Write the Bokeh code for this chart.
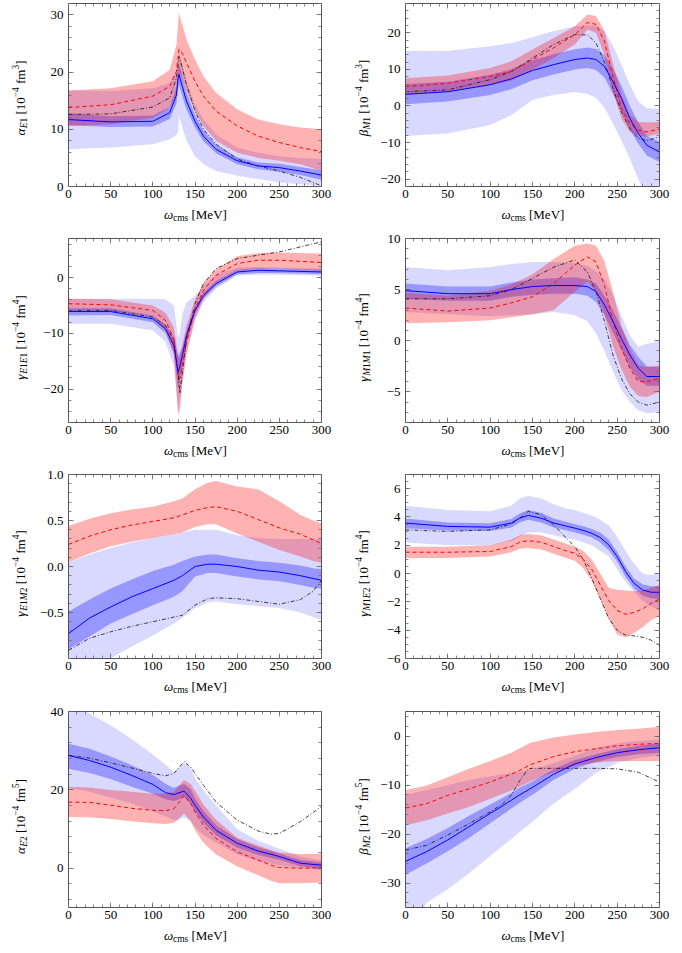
import math
from bokeh.plotting import figure
from bokeh.layouts import column, row
from bokeh.models import Range1d, FixedTicker, LinearAxis, CustomJSTickFormatter
from bokeh.core.properties import value
from bokeh.embed import file_html
from bokeh.resources import INLINE

FONT = "Liberation Serif"

# ---------------- data ----------------
XT = [0, 50, 100, 150, 200, 250, 300]
XM = list(range(0, 301, 10))

# Panel 1: alpha_E1
P1_X = [0, 50, 100, 120, 128, 130, 131, 135, 140, 150, 160, 175, 200, 225, 250, 275, 300]
P1_BLUE = [11.7, 11.3, 11.4, 12.9, 16.0, 19.0, 19.6, 17.5, 14.9, 11.4, 8.8, 6.5, 4.5, 3.6, 3.3, 2.7, 2.0]
P1_DARK_LO = [10.7, 10.4, 10.5, 11.8, 14.5, 17.0, 17.8, 15.8, 13.4, 10.3, 7.9, 5.8, 3.9, 3.0, 2.6, 2.0, 1.2]
P1_DARK_HI = [12.8, 12.3, 12.4, 13.9, 17.4, 20.8, 21.4, 19.3, 16.4, 12.5, 9.8, 7.3, 5.1, 4.2, 4.0, 3.4, 2.8]
P1_LIGHT_LO = [6.5, 6.8, 7.4, 8.2, 9.0, 9.5, 12.3, 10.3, 8.0, 5.3, 3.9, 2.7, 1.9, 1.3, 0.7, 0.4, 0.1]
P1_LIGHT_HI = [16.8, 16.7, 17.2, 18.1, 20.5, 22.5, 23.6, 21.3, 18.4, 14.3, 11.7, 9.1, 6.8, 5.9, 5.3, 5.0, 4.8]
P1_RED = [13.8, 14.3, 15.8, 17.5, 20.1, 22.5, 24.0, 23.3, 21.6, 18.4, 15.8, 13.2, 10.6, 8.8, 7.7, 6.8, 6.1]
P1_RED_LO = [10.6, 10.9, 12.0, 13.8, 16.0, 18.5, 19.8, 19.0, 16.7, 13.2, 10.6, 8.0, 5.9, 5.0, 4.5, 3.9, 2.7]
P1_RED_HI = [16.8, 17.2, 18.4, 20.4, 24.8, 28.5, 30.3, 28.3, 25.7, 22.2, 19.3, 16.4, 13.5, 11.7, 10.9, 10.3, 10.0]
P1_BLACK = [12.6, 12.7, 13.9, 15.5, 19.0, 21.5, 22.7, 20.7, 17.8, 13.2, 10.0, 7.4, 4.8, 3.6, 2.7, 1.6, 0.1]
P1_YT = [0, 10, 20, 30]

# Panel 2: beta_M1
P2_X = [0, 50, 100, 125, 150, 175, 200, 215, 225, 235, 245, 255, 265, 275, 285, 300]
P2_BLUE = [3.2, 3.9, 5.8, 7.4, 9.7, 11.3, 12.7, 13.1, 12.7, 10.8, 6.7, 2.1, -3.4, -7.5, -10.7, -12.6]
P2_DARK_LO = [0.5, 1.2, 3.0, 4.6, 7.0, 8.6, 10.0, 10.4, 9.8, 7.8, 3.3, -1.5, -6.5, -10.3, -13.5, -15.3]
P2_DARK_HI = [6.0, 6.6, 8.5, 10.1, 12.5, 14.1, 15.5, 16.0, 15.6, 13.9, 10.2, 5.6, 0.0, -4.5, -8.2, -9.8]
P2_LIGHT_LO = [-8.2, -7.5, -5.2, -2.5, 1.7, 3.0, 3.8, 3.3, 2.2, -0.5, -4.8, -9.4, -14.5, -20.0, -25.0, -32.0]
P2_LIGHT_HI = [15.0, 15.1, 16.3, 17.2, 18.8, 20.5, 21.8, 22.1, 22.0, 20.5, 16.5, 11.3, 5.8, 1.2, -0.6, -0.8]
P2_RED = [5.3, 6.2, 8.1, 9.4, 12.7, 15.9, 19.5, 22.8, 22.3, 17.7, 8.1, -0.6, -4.8, -6.6, -7.1, -6.3]
P2_RED_LO = [3.0, 3.9, 5.8, 6.9, 9.9, 13.1, 16.8, 20.9, 20.0, 14.0, 3.9, -3.4, -7.1, -8.0, -8.4, -7.5]
P2_RED_HI = [7.6, 8.3, 10.4, 12.2, 15.4, 18.6, 21.8, 25.0, 24.6, 20.5, 11.7, 3.0, -2.5, -4.3, -4.5, -4.3]
P2_BLACK = [3.9, 4.4, 7.2, 9.4, 13.1, 16.8, 19.5, 19.4, 17.2, 12.0, 4.8, -1.6, -6.2, -8.8, -9.5, -8.4]
P2_YT = [-20, -10, 0, 10, 20]

# Panel 3: gamma_E1E1
P3_X = [0, 50, 100, 115, 125, 130, 132, 135, 140, 150, 160, 175, 200, 225, 250, 300]
P3_BLUE = [-6.1, -6.1, -7.4, -9.2, -12.2, -17.0, -16.0, -14.0, -10.4, -5.9, -3.2, -1.1, 1.0, 1.3, 1.2, 1.0]
P3_DARK_LO = [-6.8, -6.7, -8.0, -10.0, -13.5, -20.0, -18.5, -16.0, -11.5, -6.5, -3.8, -1.6, 0.6, 0.8, 0.8, 0.6]
P3_DARK_HI = [-5.5, -5.5, -6.8, -8.5, -11.0, -14.0, -13.5, -12.5, -9.5, -5.3, -2.7, -0.6, 1.4, 1.7, 1.6, 1.4]
P3_LIGHT_LO = [-8.3, -8.3, -9.5, -11.5, -16.0, -24.0, -22.0, -19.0, -13.0, -7.5, -4.5, -2.0, 0.3, 0.5, 0.5, 0.3]
P3_LIGHT_HI = [-3.8, -3.8, -3.8, -3.9, -5.0, -11.0, -10.0, -6.5, -4.5, -3.3, -1.5, 0.5, 1.8, 1.9, 1.8, 1.6]
P3_RED = [-4.7, -4.9, -5.9, -7.7, -11.0, -17.6, -18.2, -15.8, -11.6, -5.6, -2.3, 0.4, 2.5, 3.1, 3.1, 2.7]
P3_RED_LO = [-5.8, -5.9, -7.0, -9.5, -14.0, -24.5, -24.0, -19.0, -14.0, -7.5, -3.8, -1.0, 1.2, 1.6, 1.6, 1.2]
P3_RED_HI = [-3.8, -3.9, -5.0, -6.3, -9.0, -14.0, -14.5, -12.0, -8.5, -4.0, -1.0, 1.5, 3.8, 4.4, 4.5, 4.3]
P3_BLACK = [-5.9, -5.9, -7.1, -8.6, -11.3, -17.0, -20.8, -17.0, -11.0, -4.7, -1.1, 1.6, 3.4, 4.0, 4.6, 6.4]
P3_YT = [-20, -10, 0]

# Panel 4: gamma_M1M1
P4_X = [0, 50, 100, 125, 150, 175, 200, 215, 225, 235, 245, 255, 265, 275, 285, 300]
P4_BLUE = [4.9, 4.6, 4.6, 5.0, 5.3, 5.4, 5.4, 5.3, 4.8, 3.5, 1.9, 0.2, -1.4, -2.7, -3.5, -3.5]
P4_DARK_LO = [4.1, 3.9, 3.9, 4.3, 4.5, 4.6, 4.6, 4.4, 3.8, 2.5, 0.8, -0.9, -2.6, -3.8, -4.4, -4.4]
P4_DARK_HI = [5.6, 5.3, 5.3, 5.7, 6.0, 6.1, 6.2, 6.0, 5.6, 4.4, 3.0, 1.3, -0.4, -1.6, -2.5, -2.6]
P4_LIGHT_LO = [2.8, 2.6, 2.4, 2.5, 2.6, 2.8, 2.5, 1.9, 0.7, -1.0, -3.0, -4.8, -6.0, -6.8, -7.1, -7.0]
P4_LIGHT_HI = [7.2, 6.9, 7.2, 7.5, 7.7, 7.7, 7.6, 7.3, 6.8, 6.0, 4.5, 2.5, 0.5, -0.6, -0.3, 0.0]
P4_RED = [3.2, 2.9, 3.2, 3.7, 4.3, 5.6, 7.4, 8.2, 7.7, 5.4, 1.9, -0.7, -2.7, -4.0, -4.0, -3.7]
P4_RED_LO = [1.7, 1.8, 2.0, 2.3, 2.6, 3.0, 4.8, 5.8, 4.8, 2.5, -0.5, -2.8, -4.5, -5.4, -5.5, -5.0]
P4_RED_HI = [4.7, 4.4, 4.9, 5.5, 6.5, 8.0, 9.3, 9.5, 9.3, 7.8, 4.8, 1.5, -0.8, -2.4, -2.6, -2.4]
P4_BLACK = [4.1, 4.1, 4.4, 5.0, 6.1, 7.2, 7.9, 6.7, 4.8, 1.9, -1.4, -3.7, -5.2, -6.0, -6.3, -6.0]
P4_YT = [-5, 0, 5, 10]

# Panel 5: gamma_E1M2
P5_X = [0, 25, 50, 75, 100, 125, 135, 150, 165, 175, 200, 225, 250, 275, 290, 300]
P5_BLUE = [-0.73, -0.56, -0.44, -0.33, -0.24, -0.15, -0.10, 0.0, 0.025, 0.025, 0.0, -0.04, -0.06, -0.10, -0.13, -0.15]
P5_DARK_LO = [-0.90, -0.76, -0.62, -0.52, -0.42, -0.33, -0.27, -0.11, -0.07, -0.07, -0.11, -0.14, -0.16, -0.20, -0.23, -0.24]
P5_DARK_HI = [-0.49, -0.36, -0.24, -0.14, -0.05, 0.02, 0.06, 0.11, 0.13, 0.13, 0.09, 0.06, 0.04, 0.01, -0.02, -0.03]
P5_LIGHT_LO = [-1.4, -1.2, -1.0, -0.87, -0.75, -0.62, -0.56, -0.45, -0.39, -0.38, -0.41, -0.43, -0.45, -0.50, -0.55, -0.58]
P5_LIGHT_HI = [0.05, 0.13, 0.20, 0.26, 0.31, 0.35, 0.37, 0.40, 0.40, 0.40, 0.34, 0.31, 0.30, 0.30, 0.30, 0.30]
P5_RED = [0.24, 0.33, 0.40, 0.45, 0.49, 0.53, 0.56, 0.61, 0.64, 0.65, 0.60, 0.51, 0.42, 0.35, 0.29, 0.25]
P5_RED_LO = [0.05, 0.14, 0.22, 0.27, 0.31, 0.35, 0.37, 0.43, 0.46, 0.46, 0.36, 0.27, 0.18, 0.11, 0.06, 0.04]
P5_RED_HI = [0.44, 0.52, 0.58, 0.62, 0.65, 0.71, 0.74, 0.84, 0.91, 0.93, 0.87, 0.84, 0.71, 0.56, 0.50, 0.47]
P5_BLACK = [-0.91, -0.78, -0.71, -0.65, -0.60, -0.55, -0.53, -0.42, -0.35, -0.34, -0.35, -0.38, -0.41, -0.36, -0.27, -0.15]
P5_YT = [-0.5, 0.0, 0.5, 1.0]

# Panel 6: gamma_M1E2
P6_X = [0, 50, 100, 125, 135, 145, 160, 175, 190, 200, 210, 220, 230, 240, 250, 260, 270, 280, 290, 300]
P6_BLUE = [3.57, 3.33, 3.28, 3.57, 3.92, 4.11, 3.92, 3.57, 3.35, 3.21, 3.05, 2.85, 2.55, 2.03, 1.2, 0.14, -0.69, -1.16, -1.32, -1.32]
P6_DARK_LO = [3.2, 3.05, 3.0, 3.25, 3.6, 3.8, 3.6, 3.25, 3.05, 2.9, 2.75, 2.55, 2.2, 1.65, 0.85, -0.25, -1.05, -1.55, -1.75, -1.8]
P6_DARK_HI = [3.9, 3.6, 3.55, 3.85, 4.25, 4.5, 4.3, 3.9, 3.65, 3.5, 3.35, 3.15, 2.9, 2.4, 1.55, 0.5, -0.35, -0.75, -0.9, -0.9]
P6_LIGHT_LO = [2.2, 2.0, 2.0, 2.3, 2.6, 2.9, 2.9, 2.7, 2.5, 2.4, 2.2, 2.0, 1.6, 1.2, 0.3, -0.6, -1.3, -1.9, -2.3, -2.6]
P6_LIGHT_HI = [4.8, 4.5, 4.4, 4.8, 5.3, 5.5, 5.3, 4.9, 4.6, 4.5, 4.3, 4.1, 3.8, 3.4, 2.6, 1.6, 0.7, 0.0, -0.1, 0.0]
P6_RED = [1.51, 1.51, 1.56, 1.91, 2.22, 2.32, 2.22, 1.91, 1.6, 1.44, 1.0, 0.3, -0.8, -1.9, -2.6, -2.88, -2.75, -2.5, -2.1, -1.8]
P6_RED_LO = [1.1, 1.1, 1.2, 1.5, 1.75, 1.8, 1.7, 1.4, 1.1, 0.9, 0.4, -0.5, -1.8, -3.2, -4.3, -4.5, -4.2, -3.8, -3.3, -3.0]
P6_RED_HI = [1.9, 1.9, 2.0, 2.4, 2.7, 2.8, 2.7, 2.4, 2.1, 1.9, 1.6, 1.0, 0.0, -1.0, -1.15, -1.2, -1.25, -1.2, -1.0, -0.8]
P6_BLACK = [3.09, 2.98, 3.09, 3.5, 3.92, 4.39, 4.16, 3.45, 2.5, 1.9, 0.97, -0.33, -1.75, -3.17, -4.0, -4.35, -4.4, -4.5, -4.7, -5.06]
P6_YT = [-6, -4, -2, 0, 2, 4, 6]

# Panel 7: alpha_E2
P7_X = [0, 25, 50, 75, 100, 115, 125, 130, 137, 145, 150, 160, 175, 200, 225, 240, 250, 275, 300]
P7_BLUE = [28.8, 27.5, 25.8, 23.7, 21.4, 19.3, 18.8, 19.2, 19.7, 17.8, 16.1, 13.1, 9.7, 6.4, 4.4, 3.6, 3.0, 1.3, 0.8]
P7_DARK_LO = [25.4, 24.3, 22.8, 20.8, 19.0, 17.6, 17.2, 17.5, 18.2, 16.5, 14.5, 11.6, 8.4, 5.3, 3.4, 2.7, 2.2, 0.5, -0.2]
P7_DARK_HI = [31.8, 30.5, 28.5, 26.3, 23.8, 21.6, 20.5, 21.0, 21.5, 20.2, 17.8, 14.7, 11.0, 7.5, 5.3, 4.5, 3.8, 2.1, 1.5]
P7_LIGHT_LO = [20.5, 19.5, 18.0, 16.5, 14.5, 13.2, 12.3, 12.3, 13.0, 12.0, 10.5, 8.5, 6.5, 3.5, 1.8, 1.2, 0.8, 0.0, -0.5]
P7_LIGHT_HI = [42.0, 39.5, 36.5, 33.0, 29.0, 26.5, 24.5, 25.5, 27.0, 25.5, 23.0, 20.0, 16.0, 10.0, 7.0, 5.8, 5.0, 3.0, 2.0]
P7_RED = [16.9, 16.8, 16.1, 15.3, 14.8, 14.7, 15.2, 16.5, 18.6, 16.5, 14.4, 11.0, 7.6, 4.2, 2.1, 0.8, 0.2, 0.0, 0.2]
P7_RED_LO = [13.1, 13.0, 12.6, 12.0, 11.5, 11.3, 11.6, 12.5, 14.0, 12.0, 9.8, 6.5, 3.5, 0.5, -1.8, -3.2, -3.8, -3.8, -3.6]
P7_RED_HI = [20.8, 20.6, 20.0, 19.5, 19.0, 19.0, 19.5, 20.8, 22.5, 21.5, 19.8, 16.3, 12.4, 7.8, 5.8, 4.7, 4.0, 3.6, 3.8]
P7_BLACK = [28.8, 28.1, 26.9, 25.6, 24.2, 23.6, 24.2, 25.5, 27.2, 25.8, 24.2, 21.2, 16.9, 12.3, 9.5, 8.7, 8.9, 11.9, 15.8]
P7_YT = [0, 20, 40]

# Panel 8: beta_M2
P8_X = [0, 25, 50, 75, 100, 115, 125, 135, 145, 150, 175, 200, 225, 250, 275, 300]
P8_BLUE = [-25.6, -23.6, -21.2, -18.5, -15.8, -14.2, -13.1, -12.0, -11.0, -10.5, -7.8, -5.7, -4.4, -3.4, -2.8, -2.4]
P8_DARK_LO = [-28.3, -26.0, -23.5, -20.8, -17.8, -16.0, -14.8, -13.6, -12.5, -12.0, -9.0, -6.7, -5.3, -4.3, -3.7, -3.4]
P8_DARK_HI = [-22.9, -21.0, -18.8, -16.3, -14.0, -12.6, -11.6, -10.5, -9.7, -9.3, -6.8, -4.9, -3.7, -2.7, -2.0, -1.5]
P8_LIGHT_LO = [-42.0, -34.0, -31.3, -28.0, -24.5, -22.4, -21.0, -19.6, -18.2, -17.5, -13.8, -10.8, -7.5, -5.5, -4.5, -4.0]
P8_LIGHT_HI = [-12.0, -11.0, -10.0, -9.0, -8.2, -7.8, -7.5, -7.2, -7.0, -6.9, -5.5, -4.0, -2.5, -1.5, -1.0, -0.7]
P8_RED = [-14.7, -13.8, -12.1, -10.8, -9.4, -8.4, -7.8, -7.0, -6.1, -5.7, -4.2, -3.2, -2.6, -2.0, -1.7, -1.5]
P8_RED_LO = [-18.2, -17.2, -15.8, -14.5, -12.8, -11.8, -11.1, -10.3, -9.5, -9.1, -7.4, -6.1, -5.4, -5.1, -5.1, -5.1]
P8_RED_HI = [-11.0, -10.1, -8.4, -6.7, -5.1, -4.1, -3.4, -2.5, -1.6, -1.3, -0.3, 0.3, 0.8, 1.2, 1.5, 1.9]
P8_BLACK = [-23.3, -22.3, -20.2, -17.9, -15.5, -13.8, -12.1, -9.1, -6.7, -6.6, -6.6, -6.6, -6.6, -6.7, -7.4, -9.4]
P8_YT = [-30, -20, -10, 0]

PANELS = [
    dict(x=P1_X, b=P1_BLUE, dlo=P1_DARK_LO, dhi=P1_DARK_HI, llo=P1_LIGHT_LO, lhi=P1_LIGHT_HI,
         r=P1_RED, rlo=P1_RED_LO, rhi=P1_RED_HI, k=P1_BLACK, ylim=(0, 32), yt=P1_YT, ym=2,
         sym="α", sub="E1", exp="3", dec=0),
    dict(x=P2_X, b=P2_BLUE, dlo=P2_DARK_LO, dhi=P2_DARK_HI, llo=P2_LIGHT_LO, lhi=P2_LIGHT_HI,
         r=P2_RED, rlo=P2_RED_LO, rhi=P2_RED_HI, k=P2_BLACK, ylim=(-22, 28), yt=P2_YT, ym=2,
         sym="β", sub="M1", exp="3", dec=0),
    dict(x=P3_X, b=P3_BLUE, dlo=P3_DARK_LO, dhi=P3_DARK_HI, llo=P3_LIGHT_LO, lhi=P3_LIGHT_HI,
         r=P3_RED, rlo=P3_RED_LO, rhi=P3_RED_HI, k=P3_BLACK, ylim=(-26, 7), yt=P3_YT, ym=2,
         sym="γ", sub="E1E1", exp="4", dec=0),
    dict(x=P4_X, b=P4_BLUE, dlo=P4_DARK_LO, dhi=P4_DARK_HI, llo=P4_LIGHT_LO, lhi=P4_LIGHT_HI,
         r=P4_RED, rlo=P4_RED_LO, rhi=P4_RED_HI, k=P4_BLACK, ylim=(-8, 10), yt=P4_YT, ym=1,
         sym="γ", sub="M1M1", exp="4", dec=0),
    dict(x=P5_X, b=P5_BLUE, dlo=P5_DARK_LO, dhi=P5_DARK_HI, llo=P5_LIGHT_LO, lhi=P5_LIGHT_HI,
         r=P5_RED, rlo=P5_RED_LO, rhi=P5_RED_HI, k=P5_BLACK, ylim=(-1.0, 1.0), yt=P5_YT, ym=0.1,
         sym="γ", sub="E1M2", exp="4", dec=1),
    dict(x=P6_X, b=P6_BLUE, dlo=P6_DARK_LO, dhi=P6_DARK_HI, llo=P6_LIGHT_LO, lhi=P6_LIGHT_HI,
         r=P6_RED, rlo=P6_RED_LO, rhi=P6_RED_HI, k=P6_BLACK, ylim=(-6, 7), yt=P6_YT, ym=0.5,
         sym="γ", sub="M1E2", exp="4", dec=0),
    dict(x=P7_X, b=P7_BLUE, dlo=P7_DARK_LO, dhi=P7_DARK_HI, llo=P7_LIGHT_LO, lhi=P7_LIGHT_HI,
         r=P7_RED, rlo=P7_RED_LO, rhi=P7_RED_HI, k=P7_BLACK, ylim=(-10, 40), yt=P7_YT, ym=4,
         sym="α", sub="E2", exp="5", dec=0),
    dict(x=P8_X, b=P8_BLUE, dlo=P8_DARK_LO, dhi=P8_DARK_HI, llo=P8_LIGHT_LO, lhi=P8_LIGHT_HI,
         r=P8_RED, rlo=P8_RED_LO, rhi=P8_RED_HI, k=P8_BLACK, ylim=(-35, 5), yt=P8_YT, ym=2,
         sym="β", sub="M2", exp="5", dec=0),
]

# ---------------- layout / style ----------------
# per column: label strip width, main border left, frame width, border right, label baseline x in strip
COLS = [(30, 38, 253, 20, 20), (32, 32, 254, 14, 22)]
# per row: frame height, border top, border bottom (tick labels), x-label strip height
ROWS = [(183, 3, 19, 26), (184, 7, 19, 26), (184, 7, 19, 27), (196, 7, 19, 26)]
XLAB_BASE = 9       # baseline of x label below strip top
TICK_FS = "13px"
MAIN = 13
SUB = 9.5
FRAME_C = "#555555"
TICK_C = "#6a6a6a"
NB = "\u00a0"

CW = {'α': 0.55, 'β': 0.52, 'γ': 0.46, 'ω': 0.68, 'E': 0.61, 'M': 0.83, 'V': 0.72, 'e': 0.44,
      'c': 0.44, 'm': 0.78, 's': 0.39, 'f': 0.33, '[': 0.33, ']': 0.33, ' ': 0.25, NB: 0.25,
      '−': 0.56}


def tw(t, size):
    return sum(CW.get(c, 0.5) for c in t) * size


def runs(s):
    out = []
    for ch in s:
        st = "italic" if ch.isalpha() else "normal"
        if out and out[-1][1] == st:
            out[-1][0] += ch
        else:
            out.append([ch, st])
    return out


def strip(w, h):
    s = figure(frame_width=w, frame_height=h, min_border=0, min_border_left=0, min_border_right=0,
               min_border_top=0, min_border_bottom=0, x_range=Range1d(0, w), y_range=Range1d(0, h),
               x_axis_type=None, y_axis_type=None, output_backend="svg", toolbar_location=None,
               tools="", background_fill_color="white", border_fill_color="white")
    s.outline_line_color = None
    s.grid.visible = False
    return s


def put_text(s, pieces, angle):
    xs, ys, ts, fs, st = [], [], [], [], []
    for (t, size, style, px, py) in pieces:
        xs.append(px); ys.append(py); ts.append(t); fs.append(f"{size}px"); st.append(style)
    s.text(x=xs, y=ys, text=ts, angle=angle, text_font=value(FONT), text_font_size=fs,
           text_font_style=st, text_color="black", text_align="left", text_baseline="alphabetic")


def style_axis(ax, show, dec=0):
    ax.major_tick_in = 5
    ax.major_tick_out = 0
    ax.minor_tick_in = 3
    ax.minor_tick_out = 0
    ax.major_tick_line_color = TICK_C
    ax.minor_tick_line_color = TICK_C
    ax.major_tick_line_width = 0.8
    ax.minor_tick_line_width = 0.8
    ax.axis_line_color = None
    ax.axis_label = None
    ax.major_label_text_font = FONT
    ax.major_label_text_color = "black"
    if show:
        ax.major_label_text_font_size = TICK_FS
        ax.formatter = CustomJSTickFormatter(code=f"return tick.toFixed({dec}).replace('-', '\u2212');")
    else:
        ax.major_label_text_font_size = "0px"
        ax.major_label_standoff = 0
        ax.formatter = CustomJSTickFormatter(code="return '';")


def make_panel(spec, ci, ri):
    wl, bl, fw, br, ylx = COLS[ci]
    fh, bt, bb, hx = ROWS[ri]
    hm = bt + fh + bb
    p = figure(frame_width=fw, frame_height=fh, min_border_left=bl, min_border_right=br,
               min_border_top=bt, min_border_bottom=bb, x_range=Range1d(0, 300),
               y_range=Range1d(*spec["ylim"]), output_backend="svg", toolbar_location=None,
               tools="", background_fill_color="white", border_fill_color="white")
    p.grid.visible = False
    p.outline_line_color = FRAME_C
    p.outline_line_width = 1

    lo, hi = spec["ylim"]
    ym = spec["ym"]
    n0 = math.ceil(lo / ym - 1e-9)
    n1 = math.floor(hi / ym + 1e-9)
    yminor = [round(i * ym, 6) for i in range(n0, n1 + 1)]

    p.xaxis[0].ticker = FixedTicker(ticks=XT, minor_ticks=XM)
    p.yaxis[0].ticker = FixedTicker(ticks=spec["yt"], minor_ticks=yminor)
    style_axis(p.xaxis[0], True)
    p.xaxis[0].major_label_standoff = 3
    style_axis(p.yaxis[0], True, spec["dec"])
    p.yaxis[0].major_label_standoff = 5

    top = LinearAxis(ticker=FixedTicker(ticks=XT, minor_ticks=XM))
    style_axis(top, False)
    p.add_layout(top, "above")
    right = LinearAxis(ticker=FixedTicker(ticks=spec["yt"], minor_ticks=yminor))
    style_axis(right, False)
    p.add_layout(right, "right")

    x = spec["x"]
    p.varea(x=x, y1=spec["llo"], y2=spec["lhi"], fill_color="#0000ff", fill_alpha=0.15)
    p.varea(x=x, y1=spec["dlo"], y2=spec["dhi"], fill_color="#0000ff", fill_alpha=0.3)
    p.varea(x=x, y1=spec["rlo"], y2=spec["rhi"], fill_color="#ff0000", fill_alpha=0.3)
    p.line(x=x, y=spec["k"], line_color="#111111", line_width=0.8, line_dash="4 2 1 2")
    p.line(x=x, y=spec["r"], line_color="#ff0000", line_width=1.0, line_dash="4 3")
    p.line(x=x, y=spec["b"], line_color="#0000ff", line_width=1.0)

    # y label strip (rotated text built from pieces)
    ys = strip(wl, hm)
    pcs = [(spec["sym"], MAIN, "italic", 0)]
    pcs += [(t, SUB, st, -3) for t, st in runs(spec["sub"])]
    pcs += [(NB + "[10", MAIN, "normal", 0), ("−4", SUB, "normal", 5), (NB + "fm", MAIN, "normal", 0),
            (spec["exp"], SUB, "normal", 5), ("]", MAIN, "normal", 0)]
    total = sum(tw(t, s) for t, s, _, _ in pcs)
    pos = bb + fh / 2 - total / 2
    placed = []
    for t, s, st, sh in pcs:
        placed.append((t, s, st, ylx - sh, pos))
        pos += tw(t, s)
    put_text(ys, placed, math.pi / 2)

    # x label strip
    xs = strip(wl + bl + fw + br, hx)
    xp = [("ω", MAIN, "italic", 0), ("cms", SUB, "normal", -3), (NB + "[MeV]", MAIN, "normal", 0)]
    total = sum(tw(t, s) for t, s, _, _ in xp)
    pos = wl + bl + fw / 2 - total / 2
    placed = []
    for t, s, st, sh in xp:
        placed.append((t, s, st, pos, hx - XLAB_BASE + sh))
        pos += tw(t, s)
    put_text(xs, placed, 0)

    return column(row(ys, p), xs)


blocks = [make_panel(spec, i % 2, i // 2) for i, spec in enumerate(PANELS)]
layout = column(*[row(blocks[2 * r], blocks[2 * r + 1]) for r in range(4)])

open("out.html", "w").write(file_html(layout, INLINE, title="Polarisabilities"))
